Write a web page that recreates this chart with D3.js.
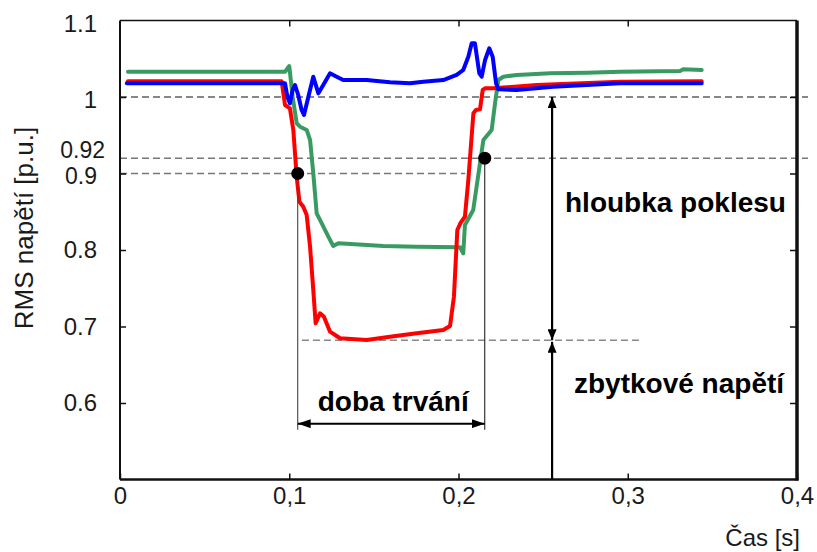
<!DOCTYPE html>
<html>
<head>
<meta charset="utf-8">
<script src="https://cdn.jsdelivr.net/npm/d3@7"></script>
<style>
  html, body { margin: 0; padding: 0; background: #fff; }
  svg { display: block; font-family: "Liberation Sans", Arial, sans-serif; }
</style>
</head>
<body>
<svg id="chart" width="817" height="552"></svg>
<script>
// RMS voltage of the three phases during a voltage sag [time s, voltage p.u.]
const phaseGreen = [
  [0.0047, 1.0331], [0.0975, 1.0331], [0.1000, 1.0405], [0.1020, 1.0004],
  [0.1044, 0.9656], [0.1064, 0.9612], [0.1103, 0.9569], [0.1123, 0.9438],
  [0.1142, 0.9003], [0.1162, 0.8480], [0.1192, 0.8349], [0.1231, 0.8174],
  [0.1260, 0.8052], [0.1290, 0.8088], [0.1556, 0.8052], [0.1753, 0.8043],
  [0.2009, 0.8035], [0.2028, 0.7957], [0.2038, 0.8327], [0.2087, 0.8523],
  [0.2127, 0.9133], [0.2147, 0.9438], [0.2196, 0.9569], [0.2216, 0.9918],
  [0.2235, 1.0222], [0.2265, 1.0265], [0.2344, 1.0288], [0.2541, 1.0310],
  [0.2757, 1.0318], [0.2954, 1.0331], [0.3309, 1.0340], [0.3328, 1.0362],
  [0.3437, 1.0353]
];
const phaseRed = [
  [0.0047, 1.0205], [0.0955, 1.0205], [0.0975, 0.9895], [0.1004, 0.9852],
  [0.1024, 0.9569], [0.1044, 0.8958], [0.1060, 0.8631], [0.1083, 0.8566],
  [0.1103, 0.8458], [0.1123, 0.8043], [0.1142, 0.7477], [0.1156, 0.7042],
  [0.1182, 0.7173], [0.1205, 0.7128], [0.1241, 0.6932], [0.1300, 0.6846],
  [0.1458, 0.6824], [0.1595, 0.6867], [0.1753, 0.6911], [0.1910, 0.6954],
  [0.1950, 0.7007], [0.1973, 0.7390], [0.1993, 0.8261], [0.2013, 0.8357],
  [0.2038, 0.8435], [0.2058, 0.8915], [0.2088, 0.9787], [0.2103, 0.9830],
  [0.2127, 0.9839], [0.2143, 1.0092], [0.2157, 1.0114], [0.2206, 1.0114],
  [0.2462, 1.0157], [0.2954, 1.0200], [0.3437, 1.0205]
];
const phaseBlue = [
  [0.0040, 1.0180], [0.0975, 1.0180], [0.0989, 1.0004], [0.1004, 0.9918],
  [0.1020, 1.0092], [0.1034, 1.0157], [0.1053, 1.0026], [0.1073, 0.9830],
  [0.1087, 0.9765], [0.1113, 1.0004], [0.1142, 1.0265], [0.1172, 1.0048],
  [0.1201, 1.0157], [0.1241, 1.0310], [0.1280, 1.0265], [0.1319, 1.0222],
  [0.1458, 1.0222], [0.1595, 1.0192], [0.1713, 1.0179], [0.1792, 1.0200],
  [0.1910, 1.0222], [0.1989, 1.0288], [0.2028, 1.0353], [0.2058, 1.0527],
  [0.2078, 1.0702], [0.2097, 1.0702], [0.2123, 1.0310], [0.2137, 1.0265],
  [0.2157, 1.0484], [0.2182, 1.0637], [0.2202, 1.0527], [0.2222, 1.0179],
  [0.2235, 1.0101], [0.2344, 1.0092], [0.2558, 1.0135], [0.2954, 1.0179],
  [0.3437, 1.0180]
];

// axis ticks
const xTicks = [0, 0.1, 0.2, 0.3, 0.4];
const xTickLabels = ["0", "0,1", "0,2", "0,3", "0,4"];
const yTicks = [1.1, 1.0, 0.92, 0.9, 0.8, 0.7, 0.6];
const yTickLabels = ["1.1", "1", "0.92", "0.9", "0.8", "0.7", "0.6"];
const yFrameTicks = [1.0, 0.9, 0.8, 0.7, 0.6];

// sag characteristics
const nominal = 1.0;
const threshold = 0.9;
const recovery = 0.92;
const residual = 0.682;
const sagStart = 0.1050;
const sagEnd = 0.2155;
const depthMarkerTime = 0.2553;
const guideEnds = { nominal: 0.4065, recovery: 0.4065, threshold: 0.204, residualFrom: 0.1075, residualTo: 0.3072 };
const durationLevel = 0.573;
const dropLineBottom = 0.565;

const svg = d3.select("#chart");
const x = d3.scaleLinear().domain([0, 0.4]).range([120, 797]);
const y = d3.scaleLinear().domain([0.5, 1.1]).range([479.5, 20.5]);

// arrow heads
const defs = svg.append("defs");
function head(id, len, wid) {
  defs.append("marker")
    .attr("id", id)
    .attr("viewBox", `0 0 ${len} ${wid}`)
    .attr("refX", len).attr("refY", wid / 2)
    .attr("markerWidth", len).attr("markerHeight", wid)
    .attr("markerUnits", "userSpaceOnUse")
    .attr("orient", "auto-start-reverse")
    .append("path")
    .attr("d", `M0,0L${len},${wid / 2}L0,${wid}Z`)
    .attr("fill", "#000");
}
head("headH", 13, 9);
head("headV", 11, 9);

// dashed guide lines
const guides = svg.append("g").attr("fill", "none");
guides.append("line")
  .attr("x1", x(0)).attr("x2", x(guideEnds.nominal))
  .attr("y1", y(nominal)).attr("y2", y(nominal))
  .attr("stroke", "#111").attr("stroke-width", 1.2).attr("stroke-dasharray", "7,4");
guides.append("line")
  .attr("x1", x(0)).attr("x2", x(guideEnds.recovery))
  .attr("y1", y(recovery)).attr("y2", y(recovery))
  .attr("stroke", "#777").attr("stroke-width", 1.4).attr("stroke-dasharray", "7,4");
guides.append("line")
  .attr("x1", x(0)).attr("x2", x(guideEnds.threshold))
  .attr("y1", y(threshold)).attr("y2", y(threshold))
  .attr("stroke", "#777").attr("stroke-width", 1.4).attr("stroke-dasharray", "7,4");
guides.append("line")
  .attr("x1", x(guideEnds.residualFrom)).attr("x2", x(guideEnds.residualTo))
  .attr("y1", y(residual)).attr("y2", y(residual))
  .attr("stroke", "#888").attr("stroke-width", 1.4).attr("stroke-dasharray", "7,4");

// frame
const frame = svg.append("g").attr("stroke", "#111").attr("fill", "none");
frame.append("line").attr("x1", x(0)).attr("x2", x(0.4)).attr("y1", y(1.1)).attr("y2", y(1.1)).attr("stroke-width", 1.5);
frame.append("line").attr("x1", x(0)).attr("x2", x(0)).attr("y1", y(1.1)).attr("y2", y(0.5)).attr("stroke-width", 2);
frame.append("line").attr("x1", x(0)).attr("x2", x(0.4) + 1.5).attr("y1", y(0.5)).attr("y2", y(0.5)).attr("stroke-width", 2.5);
frame.append("line").attr("x1", x(0.4)).attr("x2", x(0.4)).attr("y1", y(1.1)).attr("y2", y(0.5) + 1).attr("stroke-width", 3.5);

// axes with inward ticks
const axisFont = g => g.selectAll("text")
  .attr("font-size", 24).attr("fill", "#1a1a1a")
  .attr("font-family", "'Liberation Sans', Arial, sans-serif");

const axisLeftG = svg.append("g").attr("transform", `translate(${x(0)},0)`)
  .call(d3.axisLeft(y).tickValues(yTicks).tickSizeInner(-6).tickSizeOuter(0)
    .tickPadding(23).tickFormat((d, i) => yTickLabels[i]));
axisLeftG.select(".domain").remove();
axisLeftG.selectAll(".tick line").attr("stroke", "#111").attr("stroke-width", 1.5)
  .filter(d => !yFrameTicks.includes(d)).remove();
axisLeftG.call(axisFont);
// 0.92 and 0.9 sit close together: spread their labels apart
axisLeftG.selectAll(".tick text").filter(d => d === recovery)
  .attr("x", -15).attr("dy", "-0.02em").attr("font-size", 23);
axisLeftG.selectAll(".tick text").filter(d => d === threshold)
  .attr("dy", "0.44em").attr("font-size", 23);
axisLeftG.selectAll(".tick text").filter(d => d === 1.1 || d === 1.0).attr("dy", "0.45em");

const axisRightG = svg.append("g").attr("transform", `translate(${x(0.4)},0)`)
  .call(d3.axisRight(y).tickValues(yFrameTicks).tickSizeInner(-7).tickSizeOuter(0).tickFormat(""));
axisRightG.select(".domain").remove();
axisRightG.selectAll(".tick line").attr("stroke", "#111").attr("stroke-width", 1.5);

const axisBottomG = svg.append("g").attr("transform", `translate(0,${y(0.5)})`)
  .call(d3.axisBottom(x).tickValues(xTicks).tickSizeInner(-6).tickSizeOuter(0)
    .tickPadding(7).tickFormat((d, i) => xTickLabels[i]));
axisBottomG.select(".domain").remove();
axisBottomG.selectAll(".tick line").attr("stroke", "#111").attr("stroke-width", 1.5);
axisBottomG.call(axisFont);

const axisTopG = svg.append("g").attr("transform", `translate(0,${y(1.1)})`)
  .call(d3.axisTop(x).tickValues([0.1, 0.2, 0.3]).tickSizeInner(-6).tickSizeOuter(0).tickFormat(""));
axisTopG.select(".domain").remove();
axisTopG.selectAll(".tick line").attr("stroke", "#111").attr("stroke-width", 1.5);

// axis titles
svg.append("text")
  .attr("transform", `translate(33,228) rotate(-90)`)
  .attr("text-anchor", "middle")
  .attr("font-size", 26).attr("fill", "#1a1a1a")
  .text("RMS napětí [p.u.]");
svg.append("text")
  .attr("x", 800).attr("y", 546)
  .attr("text-anchor", "end")
  .attr("font-size", 24).attr("fill", "#1a1a1a")
  .text("Čas [s]");

// phase curves
const line = d3.line().x(d => x(d[0])).y(d => y(d[1])).curve(d3.curveLinear);
const curves = svg.append("g").attr("fill", "none")
  .attr("stroke-width", 4).attr("stroke-linejoin", "round").attr("stroke-linecap", "round");
curves.append("path").datum(phaseGreen).attr("d", line).attr("stroke", "#3a9b62");
curves.append("path").datum(phaseRed).attr("d", line).attr("stroke", "#ff0000");
curves.append("path").datum(phaseBlue).attr("d", line).attr("stroke", "#0000ff");

// duration: drop lines, arrow, label
const ann = svg.append("g");
ann.append("line")
  .attr("x1", x(sagStart)).attr("x2", x(sagStart))
  .attr("y1", y(threshold)).attr("y2", y(dropLineBottom))
  .attr("stroke", "#444").attr("stroke-width", 1.1);
ann.append("line")
  .attr("x1", x(sagEnd)).attr("x2", x(sagEnd))
  .attr("y1", y(recovery)).attr("y2", y(dropLineBottom))
  .attr("stroke", "#222").attr("stroke-width", 1.1);
ann.append("line")
  .attr("x1", x(sagStart)).attr("x2", x(sagEnd))
  .attr("y1", y(durationLevel)).attr("y2", y(durationLevel))
  .attr("stroke", "#000").attr("stroke-width", 2)
  .attr("marker-start", "url(#headH)").attr("marker-end", "url(#headH)");
ann.append("text")
  .attr("x", (x(sagStart) + x(sagEnd)) / 2 + 2).attr("y", 411)
  .attr("text-anchor", "middle")
  .attr("font-size", 28).attr("font-weight", "bold").attr("fill", "#000")
  .text("doba trvání");

// depth and residual voltage arrows
ann.append("line")
  .attr("x1", x(depthMarkerTime)).attr("x2", x(depthMarkerTime))
  .attr("y1", y(nominal)).attr("y2", y(residual))
  .attr("stroke", "#000").attr("stroke-width", 2.2)
  .attr("marker-start", "url(#headV)").attr("marker-end", "url(#headV)");
ann.append("line")
  .attr("x1", x(depthMarkerTime)).attr("x2", x(depthMarkerTime))
  .attr("y1", y(0.5)).attr("y2", y(residual) + 1.5)
  .attr("stroke", "#000").attr("stroke-width", 2.2)
  .attr("marker-end", "url(#headV)");
ann.append("text")
  .attr("x", 565).attr("y", 212)
  .attr("font-size", 28).attr("font-weight", "bold").attr("fill", "#000")
  .text("hloubka poklesu");
ann.append("text")
  .attr("x", 574).attr("y", 393)
  .attr("font-size", 28).attr("font-weight", "bold").attr("fill", "#000")
  .text("zbytkové napětí");

// threshold crossing points
ann.append("circle").attr("cx", x(sagStart)).attr("cy", y(threshold)).attr("r", 6.5).attr("fill", "#000");
ann.append("circle").attr("cx", x(sagEnd)).attr("cy", y(recovery)).attr("r", 6.5).attr("fill", "#000");
</script>
</body>
</html>
